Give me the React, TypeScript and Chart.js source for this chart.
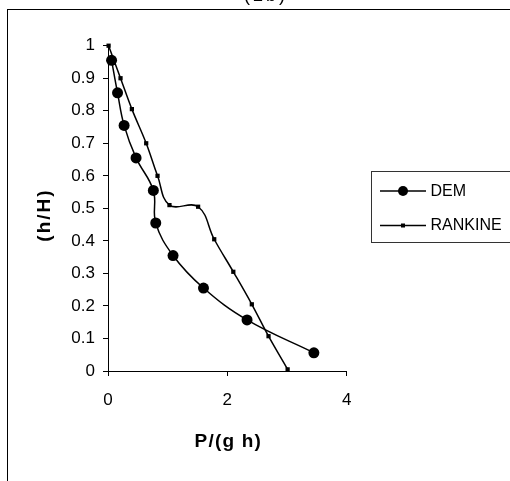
import { useEffect, useRef } from "react";
import { Chart, registerables } from "chart.js";

Chart.register(...registerables);

// ---- data ----
const demX = [0.06, 0.16, 0.27, 0.47, 0.76, 0.8, 1.09, 1.6, 2.33, 3.45];
const demY = [0.955, 0.855, 0.755, 0.655, 0.555, 0.455, 0.355, 0.255, 0.157, 0.056];
const rankineX = [0.01, 0.21, 0.4, 0.64, 0.83, 1.03, 1.51, 1.78, 2.1, 2.41, 2.69, 3.01];
const rankineY = [1.0, 0.9, 0.805, 0.7, 0.6, 0.51, 0.505, 0.405, 0.305, 0.205, 0.107, 0.005];
const seriesLabels = ["DEM", "RANKINE"];
const xTickValues = [0, 2, 4];
const yTickValues = [0, 0.1, 0.2, 0.3, 0.4, 0.5, 0.6, 0.7, 0.8, 0.9, 1];
const xTitle = "P/(g h)";
const yTitle = "(h/H)";
const chartTitle = "(2b)";

const FONT = '"Liberation Sans", Arial, sans-serif';

export default function App() {
  const ref = useRef<HTMLCanvasElement>(null);

  useEffect(() => {
    const canvas = ref.current;
    if (!canvas) return;

    const decor = {
      id: "decor",
      afterDraw(chart: any) {
        const ctx = chart.ctx as CanvasRenderingContext2D;
        const area = chart.chartArea;
        ctx.save();
        // outer frame
        ctx.strokeStyle = "#000";
        ctx.lineWidth = 1;
        ctx.strokeRect(7.5, 9.5, 1000, 1000);

        // partially visible title
        ctx.fillStyle = "#000";
        ctx.font = `18px ${FONT}`;
        ctx.textAlign = "center";
        ctx.textBaseline = "alphabetic";
        (ctx as any).letterSpacing = "3px";
        ctx.fillText(chartTitle, 266, 1);

        // x-axis title
        ctx.font = `bold 19px ${FONT}`;
        (ctx as any).letterSpacing = "1.2px";
        ctx.textBaseline = "middle";
        ctx.fillText(xTitle, (area.left + area.right) / 2 + 1, 442);

        // y-axis title
        ctx.translate(45, 215);
        ctx.rotate(-Math.PI / 2);
        ctx.font = `bold 19px ${FONT}`;
        (ctx as any).letterSpacing = "2px";
        ctx.fillText(yTitle, 0, 0);
        ctx.restore();

        // legend
        ctx.save();
        (ctx as any).letterSpacing = "0px";
        ctx.strokeStyle = "#333";
        ctx.lineWidth = 1;
        ctx.strokeRect(371.5, 171.5, 200, 71);
        const rows = [191, 225.5];
        chart.data.datasets.forEach((ds: any, i: number) => {
          const y = rows[i];
          ctx.strokeStyle = ds.borderColor;
          ctx.lineWidth = ds.borderWidth;
          ctx.beginPath();
          ctx.moveTo(380, y);
          ctx.lineTo(426, y);
          ctx.stroke();
          ctx.fillStyle = "#000";
          if (ds.pointStyle === "circle") {
            ctx.beginPath();
            ctx.arc(403, y, 5, 0, Math.PI * 2);
            ctx.fill();
          } else {
            ctx.fillRect(401, y - 2, 4, 4);
          }
          ctx.font = `16px ${FONT}`;
          ctx.textAlign = "left";
          ctx.textBaseline = "middle";
          ctx.fillText(ds.label, 430.5, y + 0.5);
        });
        ctx.restore();
      },
    };

    const fixPad = (scale: any) => {
      scale.paddingTop = 0;
      scale.paddingBottom = 0;
      scale.paddingLeft = 0;
      scale.paddingRight = 0;
    };

    const chart = new Chart(canvas, {
      type: "scatter",
      data: {
        datasets: [
          {
            label: seriesLabels[0],
            data: demX.map((x, i) => ({ x, y: demY[i] })),
            showLine: true,
            tension: 0.4,
            borderColor: "#000",
            backgroundColor: "#000",
            borderWidth: 1.5,
            pointStyle: "circle",
            pointRadius: 5.5,
            pointBorderWidth: 0,
            clip: false as any,
          },
          {
            label: seriesLabels[1],
            data: rankineX.map((x, i) => ({ x, y: rankineY[i] })),
            showLine: true,
            tension: 0.4,
            borderColor: "#000",
            backgroundColor: "#000",
            borderWidth: 1.5,
            pointStyle: "rect",
            pointRadius: 3,
            pointBorderWidth: 0,
            clip: false as any,
          },
        ],
      },
      options: {
        animation: false,
        responsive: false,
        devicePixelRatio: 1,
        events: [],
        layout: { padding: { left: 0, top: 45.7, right: 163.3, bottom: 0 } },
        plugins: {
          legend: { display: false },
          tooltip: { enabled: false },
          title: { display: false },
        },
        scales: {
          x: {
            type: "linear",
            min: 0,
            max: 4,
            afterBuildTicks: (s: any) => {
              s.ticks = xTickValues.map((v) => ({ value: v }));
            },
            afterFit: (s: any) => {
              s.height = 110;
              fixPad(s);
            },
            ticks: {
              color: "#000",
              font: { family: FONT, size: 17 },
              padding: 14,
              maxRotation: 0,
            },
            grid: {
              drawOnChartArea: false,
              drawTicks: true,
              tickLength: 5,
              color: "#000",
              lineWidth: 1,
            },
            border: { display: true, color: "#000", width: 1 },
          },
          y: {
            type: "linear",
            min: 0,
            max: 1,
            afterBuildTicks: (s: any) => {
              s.ticks = yTickValues.map((v) => ({ value: v }));
            },
            afterFit: (s: any) => {
              s.width = 108;
              fixPad(s);
            },
            ticks: {
              color: "#000",
              font: { family: FONT, size: 17 },
              padding: 8,
              callback: (v: any) => String(v),
            },
            grid: {
              drawOnChartArea: false,
              drawTicks: true,
              tickLength: 5,
              color: "#000",
              lineWidth: 1,
            },
            border: { display: true, color: "#000", width: 1 },
          },
        },
      },
      plugins: [decor],
    });

    return () => chart.destroy();
  }, []);

  return (
    <div
      style={{
        position: "fixed",
        left: 0,
        top: 0,
        width: 510,
        height: 481,
        background: "#fff",
      }}
    >
      <canvas
        ref={ref}
        width={510}
        height={481}
        style={{ display: "block", width: 510, height: 481 }}
      />
    </div>
  );
}
